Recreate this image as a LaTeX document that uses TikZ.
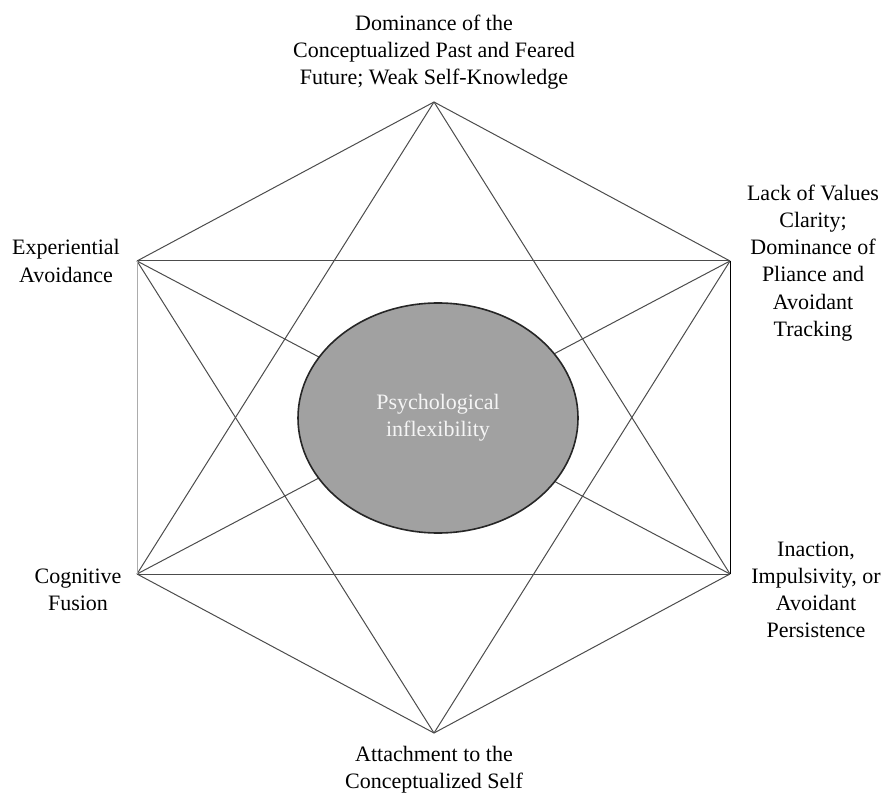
\documentclass[tikz,border=0pt]{standalone}
\usepackage{fontspec}
\setmainfont{Liberation Serif}
\usetikzlibrary{shapes.geometric}

\begin{document}
\begin{tikzpicture}[x=0.5pt, y=-0.5pt, line join=round]

  % Styles
  \tikzset{
    hex-line/.style={black!70, line width=0.5pt},
    core/.style={ellipse, draw=black!85, line width=0.8pt, fill=black!37,
      minimum width=140pt, minimum height=115pt, inner sep=0pt,
      align=center, text=white!92!gray, font=\fontsize{11}{13.5}\selectfont},
    lbl/.style={align=center, inner sep=0pt, font=\fontsize{11}{13.6}\selectfont},
  }

  \useasboundingbox (0,0) rectangle (886,795);

  % Hexagon corners
  \coordinate (T)  at (434,102);
  \coordinate (UL) at (137,261);
  \coordinate (UR) at (730,261);
  \coordinate (LR) at (730,574);
  \coordinate (B)  at (434,733);
  \coordinate (LL) at (137,574);

  % Connections between the six processes
  \foreach \a/\b in {T/UL, T/UR, T/LL, T/LR, B/UL, B/UR, B/LL, B/LR,
                     UL/UR, LL/LR, UL/LR, LL/UR}
    \draw[hex-line] (\a) -- (\b);
  \draw[hex-line, gray!65] (UL) -- (LL);
  \draw[hex-line, black] (UR) -- (LR);

  % Center
  \node[core] (core) at (438,418) {Psychological\\inflexibility};

  % Process labels
  \node[lbl] (top) at (434,52)
    {Dominance of the\\Conceptualized Past and Feared\\Future; Weak Self-Knowledge};
  \node[lbl] (expav) at (66,261) {Experiential\\Avoidance};
  \node[lbl] (values) at (813,263)
    {Lack of Values\\Clarity;\\Dominance of\\Pliance and\\Avoidant\\Tracking};
  \node[lbl] (fusion) at (78,590) {Cognitive\\Fusion};
  \node[lbl] (inaction) at (816,590)
    {Inaction,\\Impulsivity, or\\Avoidant\\Persistence};
  \node[lbl] (self) at (434,770) {Attachment to the\\Conceptualized Self};

\end{tikzpicture}
\end{document}
